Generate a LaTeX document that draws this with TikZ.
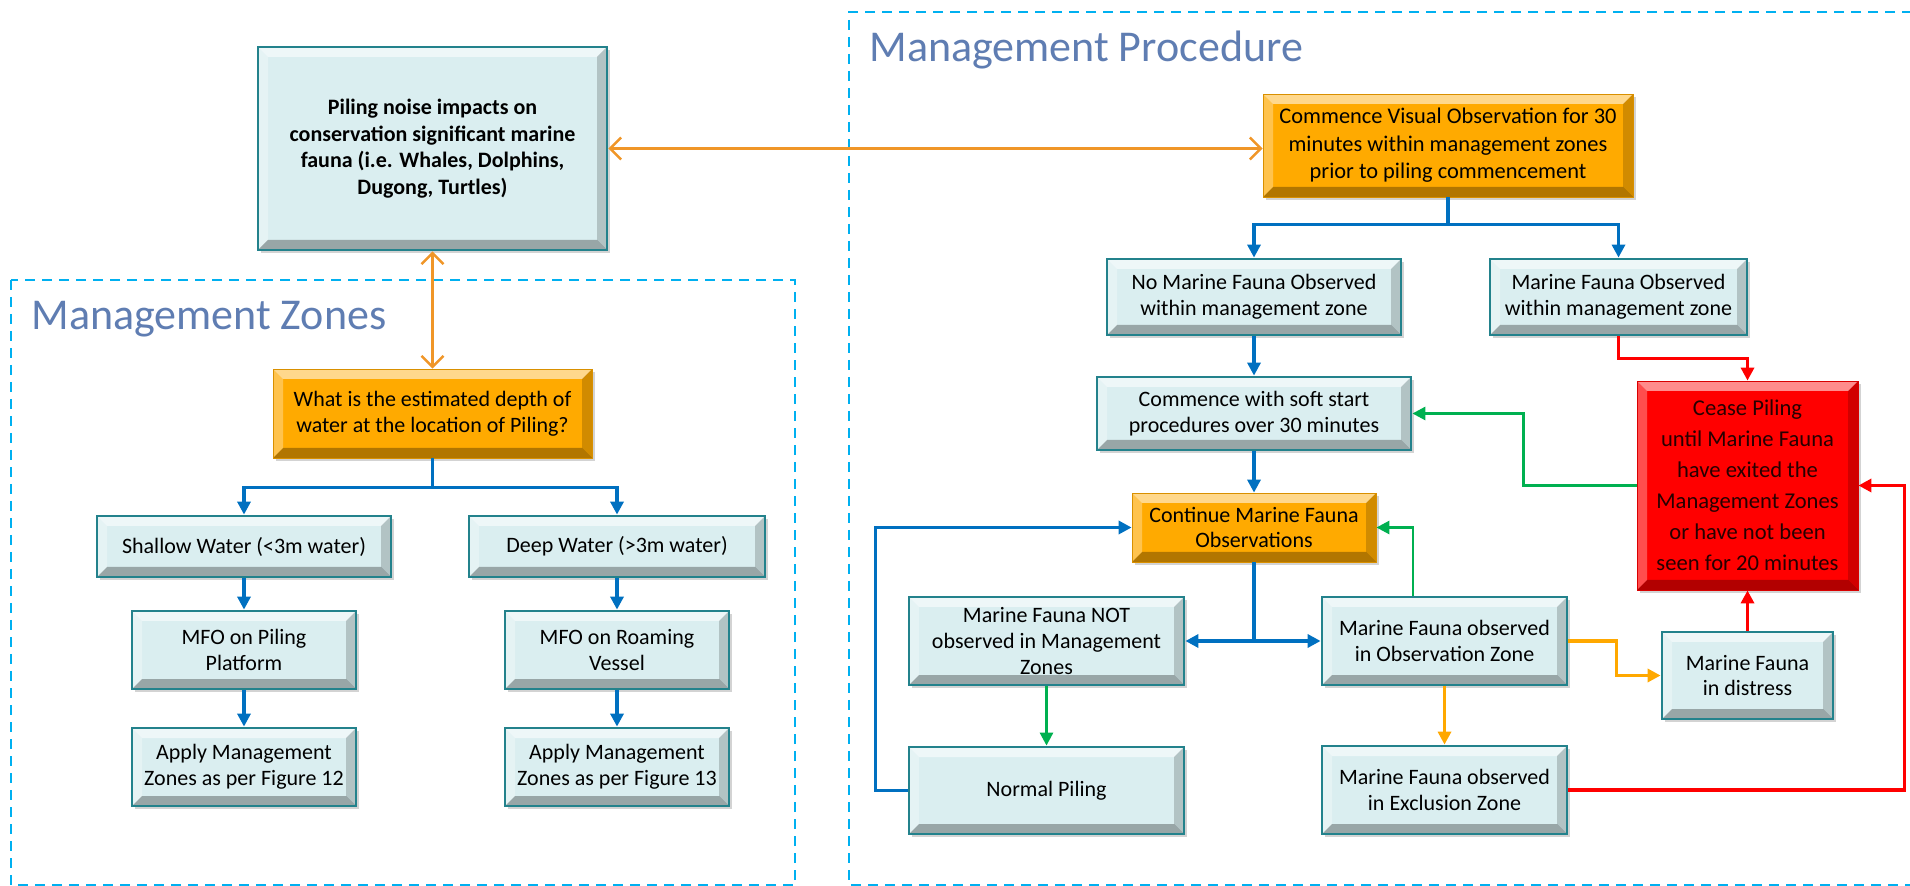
\documentclass[tikz,border=0pt]{standalone}
\usepackage{fontspec}
\setmainfont{Carlito}
\usetikzlibrary{arrows.meta,shadows,calc}

\definecolor{boxfill}{RGB}{218,238,240}
\definecolor{boxline}{RGB}{35,130,140}
\definecolor{ofill}{RGB}{255,170,0}
\definecolor{rfill}{RGB}{255,0,0}
\definecolor{ablue}{RGB}{0,112,192}
\definecolor{aorange}{RGB}{240,150,40}
\definecolor{aorange2}{RGB}{255,168,0}
\definecolor{agreen}{RGB}{0,176,80}
\definecolor{ared}{RGB}{255,0,0}
\definecolor{dashblue}{RGB}{0,176,240}
\definecolor{titleblue}{RGB}{95,125,178}

\newcommand\mybvw{5pt}
\tikzset{
  bevelpic/.style={path picture={
    \path (path picture bounding box.north west) coordinate (bvnw)
          (path picture bounding box.north east) coordinate (bvne)
          (path picture bounding box.south west) coordinate (bvsw)
          (path picture bounding box.south east) coordinate (bvse);
    \fill[white,opacity=0.55] (bvnw) -- (bvne) -- ([shift={(-\mybvw,-\mybvw)}]bvne) -- ([shift={(\mybvw,-\mybvw)}]bvnw) -- cycle;
    \fill[white,opacity=0.3] (bvnw) -- (bvsw) -- ([shift={(\mybvw,\mybvw)}]bvsw) -- ([shift={(\mybvw,-\mybvw)}]bvnw) -- cycle;
    \fill[black,opacity=0.18] (bvne) -- (bvse) -- ([shift={(-\mybvw,\mybvw)}]bvse) -- ([shift={(-\mybvw,-\mybvw)}]bvne) -- cycle;
    \fill[black,opacity=0.3] (bvsw) -- (bvse) -- ([shift={(-\mybvw,\mybvw)}]bvse) -- ([shift={(\mybvw,\mybvw)}]bvsw) -- cycle;
  }},
  basebox/.style={bevelpic, align=center, inner sep=2pt,
    font=\fontsize{11}{12.8}\selectfont,
    drop shadow={shadow xshift=1.5pt,shadow yshift=-1.5pt,opacity=0.35}},
  lbox/.style={basebox, fill=boxfill, draw=boxline, line width=1.4pt},
  obox/.style={basebox, fill=ofill, draw=ofill!85!black, line width=0.4pt},
  rbox/.style={basebox, fill=rfill, draw=rfill!85!black, line width=0.4pt, text=black!85!red},
  con/.style={line width=1.8pt, -{Triangle[length=6.5pt,width=6.5pt]}},
  blu/.style={con, draw=ablue},
  grn/.style={con, draw=agreen, line width=1.4pt},
  rd/.style={con, draw=ared},
  org/.style={con, draw=aorange2},
  dbl/.style={draw=aorange, line width=1.2pt,
    {Straight Barb[length=5.5pt,width=11pt]}-{Straight Barb[length=5.5pt,width=11pt]}},
  zonebox/.style={draw=dashblue, line width=1.3pt, dash pattern=on 5pt off 3.5pt},
  ztitle/.style={anchor=base west, inner sep=0pt, text=titleblue,
    font=\fontsize{22}{26}\selectfont},
}

% #1 name, #2 style, #3 left, #4 top, #5 right, #6 bottom, #7 text
\newcommand\mkbox[7]{\node[#2,minimum width={(#5-#3)*0.5pt},minimum height={(#6-#4)*0.5pt}] (#1) at ({(#3+#5)/2},{(#4+#6)/2}) {#7};}

\begin{document}
\begin{tikzpicture}[x=0.5pt,y=-0.5pt]
\useasboundingbox (0,0) rectangle (1910,886);

% dashed zone frames
\draw[zonebox] (11,280) rectangle (795,885);
\draw[zonebox] (1912,12) -- (849,12) -- (849,885) -- (1912,885);
\node[ztitle] (tproc) at (869,62) {Management Procedure};
\node[ztitle] (tzones) at (31,330) {Management Zones};

% left part
\mkbox{piling}{lbox,font=\fontsize{11}{13.3}\selectfont\bfseries}{258}{47}{607}{250}{Piling noise impacts on\\conservation significant marine\\fauna (i.e. Whales, Dolphins,\\Dugong, Turtles)}
\mkbox{whatis}{obox}{273}{369}{592}{458}{What is the estimated depth of\\water at the location of Piling?}
\mkbox{shallow}{lbox}{97}{516}{391}{577}{Shallow Water (<3m water)}
\mkbox{deep}{lbox}{469}{516}{765}{577}{Deep Water (>3m water)}
\mkbox{mfoa}{lbox}{132}{611}{356}{689}{MFO on Piling\\Platform}
\mkbox{mfob}{lbox}{505}{611}{729}{689}{MFO on Roaming\\Vessel}
\mkbox{applya}{lbox}{132}{728}{356}{806}{Apply Management\\Zones as per Figure 12}
\mkbox{applyb}{lbox}{505}{728}{729}{806}{Apply Management\\Zones as per Figure 13}

% right part
\mkbox{commence}{obox,font=\fontsize{11.2}{13.8}\selectfont}{1263}{94}{1633}{197}{Commence Visual Observation for 30\\minutes within management zones\\prior to piling commencement}
\mkbox{nomf}{lbox}{1107}{259}{1401}{335}{No Marine Fauna Observed\\within management zone}
\mkbox{mfobs}{lbox}{1490}{259}{1747}{335}{Marine Fauna Observed\\within management zone}
\mkbox{soft}{lbox}{1097}{377}{1411}{450}{Commence with soft start\\procedures over 30 minutes}
\mkbox{cease}{rbox,font=\fontsize{11.3}{15.5}\selectfont}{1637}{381}{1858}{590}{Cease Piling\\until Marine Fauna\\have exited the\\Management Zones\\or have not been\\seen for 20 minutes}
\mkbox{cont}{obox}{1132}{493}{1376}{562}{Continue Marine Fauna\\Observations}
\mkbox{mfnot}{lbox}{909}{597}{1184}{685}{Marine Fauna NOT\\observed in Management\\Zones}
\mkbox{obszone}{lbox}{1322}{597}{1567}{685}{Marine Fauna observed\\in Observation Zone}
\mkbox{distress}{lbox}{1662}{632}{1833}{719}{Marine Fauna\\in distress}
\mkbox{normal}{lbox}{909}{747}{1184}{834}{Normal Piling}
\mkbox{excl}{lbox}{1322}{746}{1567}{834}{Marine Fauna observed\\in Exclusion Zone}

% connectors - left
\draw[dbl] (piling.east) -- (piling.east -| commence.west);
\draw[dbl] (piling.south) -- (whatis.north);
\draw[blu] (whatis.south) -- ++(0,29) -| (shallow.north);
\draw[blu] (whatis.south) -- ++(0,29) -| (deep.north);
\draw[blu] (shallow.south) -- (mfoa.north);
\draw[blu] (mfoa.south) -- (applya.north);
\draw[blu] (deep.south) -- (mfob.north);
\draw[blu] (mfob.south) -- (applyb.north);

% connectors - right
\draw[blu] (commence.south) -- ++(0,27) -| (nomf.north);
\draw[blu] (commence.south) -- ++(0,27) -| (mfobs.north);
\draw[blu] (nomf.south) -- (soft.north);
\draw[rd] (mfobs.south) -- ++(0,22) -| (cease.north);
\draw[grn] (cease.west) -- ++(-113,0) |- (soft.east);
\draw[blu] (soft.south) -- (cont.north);
\draw[blu] (cont.south) |- (mfnot.east);
\draw[blu] (cont.south) |- (obszone.west);
\draw[grn] (mfnot.south) -- (normal.north);
\draw[blu] (normal.west) -- ++(-32,0) |- (cont.west);
\draw[grn] ([xshift=-15.75pt]obszone.north) |- (cont.east);
\draw[org] (obszone.east) -- ++(48,0) |- (distress.west);
\draw[rd] (distress.north) -- (cease.south);
\draw[org] (obszone.south) -- (excl.north);
\draw[rd] (excl.east) -- ++(336,0) |- (cease.east);
\end{tikzpicture}
\end{document}
